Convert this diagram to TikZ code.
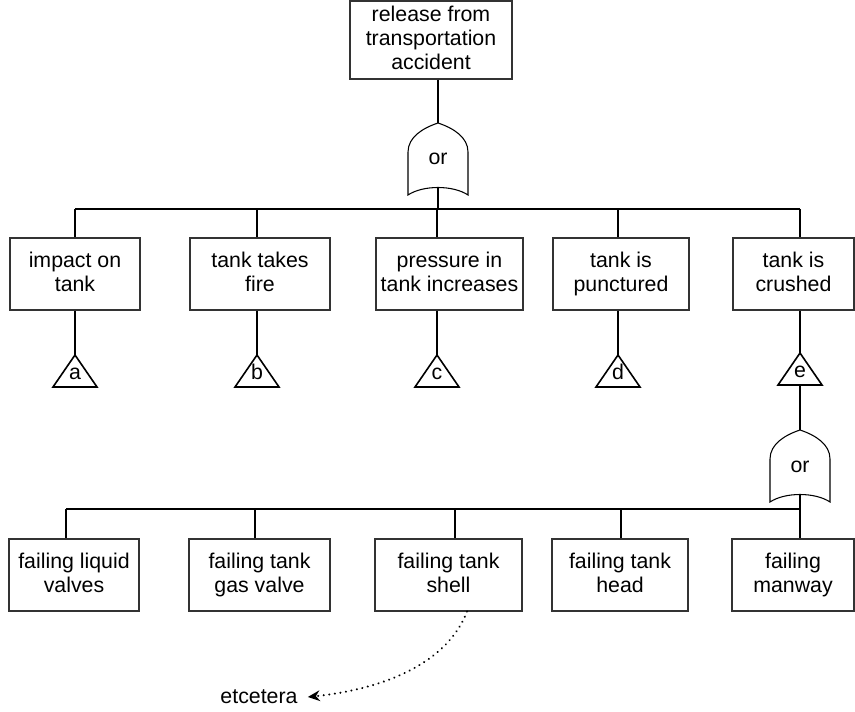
\documentclass[tikz,border=0pt]{standalone}
\usepackage{fontspec}
\setmainfont{Liberation Sans}
\usetikzlibrary{arrows.meta}
\newcommand\boxstrut{\rule[-3.25pt]{0pt}{13pt}}
\newcommand\topstrut{\rule[-1.5pt]{0pt}{16.5pt}}
\begin{document}
\begin{tikzpicture}[x=0.75pt,y=-0.75pt,
  every node/.style={font=\fontsize{16}{18}\selectfont, inner sep=0pt},
  evbox/.style={draw=black!80, line width=0.8pt, align=center, minimum height=54pt,
    execute at begin node={\boxstrut}, execute at end node={\boxstrut}},
  conn/.style={line width=1.3pt},
  gateline/.style={line width=0.8pt},
  triline/.style={line width=1.2pt},
  orgate/.pic={
    \draw[gateline] (-30,29) .. controls (-30,14) and (-15,5) .. (0,0)
      .. controls (15,5) and (30,14) .. (30,29) -- (30,72)
      .. controls (15,62) and (-15,62) .. (-30,72) -- cycle;
    \node[anchor=base] at (0,42) {or};
    \coordinate (-top) at (0,0);
    \coordinate (-bot) at (0,65);
  },
  tri/.pic={
    \draw[triline, line join=miter] (0,0) -- (22,32) -- (-22,32) -- cycle;
    \node[anchor=base] at (0,24) {#1};
    \coordinate (-top) at (0,0);
    \coordinate (-base) at (0,32);
  }
]
\useasboundingbox (0,0) rectangle (855,712);

% top event
\node[evbox, minimum width=121.5pt, minimum height=58.5pt,
      execute at begin node={\topstrut}, execute at end node={\topstrut}] (top) at (431,40)
  {release from\\transportation\\accident};
\pic (g1) at (438,123) {orgate};

% first level events
\node[evbox, minimum width=97.5pt]  (b1) at (75,274)    {impact on\\tank};
\node[evbox, minimum width=105pt]   (b2) at (260,274)   {tank takes\\fire};
\node[evbox, minimum width=110.25pt](b3) at (449.5,274) {pressure in\\tank increases};
\node[evbox, minimum width=102pt]   (b4) at (621,274)   {tank is\\punctured};
\node[evbox, minimum width=90.75pt] (b5) at (793.5,274) {tank is\\crushed};

\pic (ta) at (75,355)  {tri=a};
\pic (tb) at (257,355) {tri=b};
\pic (tc) at (437,355) {tri=c};
\pic (td) at (618,355) {tri=d};
\pic (te) at (800,353) {tri=e};

\coordinate (bar1) at (0,209);
\draw[conn] (g1-top |- top.south) -- (g1-top);
\draw[conn] (g1-bot) -- (g1-bot |- bar1);
\draw[conn] (ta-top |- bar1) -- (te-top |- bar1);
\foreach \i/\t in {1/a,2/b,3/c,4/d,5/e}{
  \draw[conn] (t\t-top |- bar1) -- (t\t-top |- b\i.north);
  \draw[conn] (t\t-top |- b\i.south) -- (t\t-top);
}

% second gate
\pic (g2) at (800,430) {orgate};
\draw[conn] (te-base) -- (g2-top);

% second level events
\node[evbox, minimum width=97.5pt]   (c1) at (74,575)    {failing liquid\\valves};
\node[evbox, minimum width=105.75pt] (c2) at (259.5,575) {failing tank\\gas valve};
\node[evbox, minimum width=110.25pt] (c3) at (448.5,575) {failing tank\\shell};
\node[evbox, minimum width=102pt]    (c4) at (620,575)   {failing tank\\head};
\node[evbox, minimum width=91.5pt]   (c5) at (793,575)   {failing\\manway};

\coordinate (k1) at (66,509);
\coordinate (k2) at (255,509);
\coordinate (k3) at (455,509);
\coordinate (k4) at (621,509);
\coordinate (k5) at (800,509);
\draw[conn] (k1) -- (k5);
\draw[conn] (g2-bot) -- (k5);
\foreach \i in {1,...,5}{
  \draw[conn] (k\i) -- (k\i |- c\i.north);
}

% etcetera
\node (etc) at (259,697) {etcetera};
\coordinate (s3out) at ([xshift=13.9pt]c3.south);
\draw[line width=1.7pt, line cap=round, dash pattern=on 0.01pt off 4.2pt,
      -{Stealth[length=9pt,width=8pt]}]
  (s3out) .. controls (445,668) and (375,690) .. ([xshift=7.5pt]etc.east);
\end{tikzpicture}
\end{document}
